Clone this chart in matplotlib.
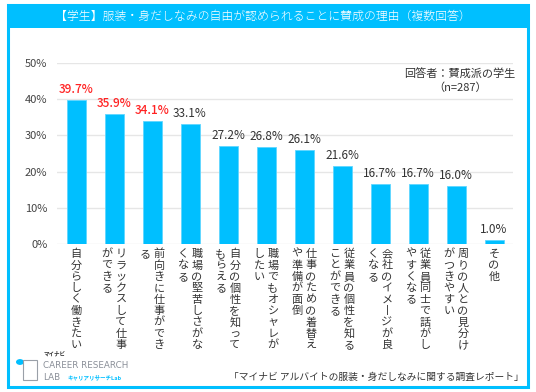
import matplotlib
matplotlib.use("Agg")
import matplotlib.pyplot as plt
from matplotlib.patches import Rectangle

plt.rcParams['font.family'] = ['Noto Sans CJK JP', 'DejaVu Sans']

# データ
title = "【学生】服装・身だしなみの自由が認められることに賛成の理由（複数回答）"
values = [39.7, 35.9, 34.1, 33.1, 27.2, 26.8, 26.1, 21.6, 16.7, 16.7, 16.0, 1.0]
labels = [
    ["自分らしく働きたい"],
    ["リラックスして仕事", "ができる"],
    ["前向きに仕事ができ", "る"],
    ["職場の堅苦しさがな", "くなる"],
    ["自分の個性を知って", "もらえる"],
    ["職場でもオシャレが", "したい"],
    ["仕事のための着替え", "や準備が面倒"],
    ["従業員の個性を知る", "ことができる"],
    ["会社のイメ丨ジが良", "くなる"],
    ["従業員同士で話がし", "やすくなる"],
    ["周りの人との見分け", "がつきやすい"],
    ["その他"],
]
n_red = 3
yticks = [0, 10, 20, 30, 40, 50]
note = "回答者：賛成派の学生\n（n=287）"
source = "「マイナビ アルバイトの服装・身だしなみに関する調査レポート」"

W, H = 536, 392
BLUE = "#00bfff"
RED = "#ff2222"

fig = plt.figure(figsize=(W / 100, H / 100), dpi=100)

# 外枠とタイトル帯
fig.patches.append(Rectangle((8 / W, 5 / H), 520 / W, 382 / H, transform=fig.transFigure,
                             fill=False, ec=BLUE, lw=2.2))
fig.patches.append(Rectangle((8 / W, (H - 28) / H), 520 / W, 23 / H, transform=fig.transFigure,
                             fc=BLUE, ec=BLUE, lw=0))
fig.text(263 / W, (H - 16.5) / H, title, color="white", fontsize=8.6, ha="center", va="center",
         fontweight="light")

ax = fig.add_axes([57 / W, (H - 244) / H, 456 / W, 181 / H])
x = list(range(len(values)))
ax.bar(x, values, width=0.5, color=BLUE, ec="#5fd6ff", lw=0.6, zorder=2)
ax.set_xlim(-0.5, len(values) - 0.5)
ax.set_ylim(0, 50)
ax.set_yticks(yticks)
ax.set_yticklabels([f"{t}%" for t in yticks], fontsize=8, color="#444444")
ax.set_xticks([])
ax.tick_params(axis="y", length=0, pad=7)
ax.grid(axis="y", color="#e6e6e6", lw=1, zorder=0)
for s in ax.spines.values():
    s.set_visible(False)

for i, v in enumerate(values):
    ax.annotate(f"{v:.1f}%", (i, v), xytext=(0, 4), textcoords="offset pixels",
                ha="center", va="bottom", fontsize=8.5,
                color=RED if i < n_red else "#333333",
                fontweight="medium" if i < n_red else "normal")

# 縦書きラベル
step = 11.4
for i, cols in enumerate(labels):
    offs = [0] if len(cols) == 1 else [7, -7]
    for col, dx in zip(cols, offs):
        for k, ch in enumerate(col):
            ax.annotate(ch, (i, 0), xycoords=("data", "axes fraction"),
                        xytext=(dx, -10 - k * step), textcoords="offset pixels",
                        ha="center", va="center", fontsize=8, color="#333333")

fig.text(460 / W, (H - 81) / H, note, fontsize=8, color="#333333", ha="center", va="center",
         linespacing=1.3)
fig.text(524 / W, (H - 377) / H, source, fontsize=7, color="#333333", ha="right", va="center")

# ロゴ
fig.text(44 / W, (H - 354) / H, "マイナビ", fontsize=4, color="#333333", fontweight="bold",
         ha="left", va="center")
fig.text(43 / W, (H - 365) / H, "CAREER RESEARCH", fontsize=6.3, color="#8a8f98",
         ha="left", va="center", family=["DejaVu Sans"])
fig.text(43 / W, (H - 377) / H, "LAB", fontsize=6.3, color="#8a8f98",
         ha="left", va="center", family=["DejaVu Sans"])
fig.text(68 / W, (H - 377) / H, "キャリアリサーチLab", fontsize=4, color=BLUE,
         fontweight="bold", ha="left", va="center")
fig.patches.append(plt.Circle((20 / W, (H - 362) / H), 4 / W, transform=fig.transFigure,
                              fc=BLUE, ec="none"))
fig.patches.append(Rectangle((23 / W, (H - 380) / H), 14 / W, 20 / H, transform=fig.transFigure,
                             fill=False, ec="#9aa0a8", lw=0.8))

fig.savefig("out.png", dpi=100)
